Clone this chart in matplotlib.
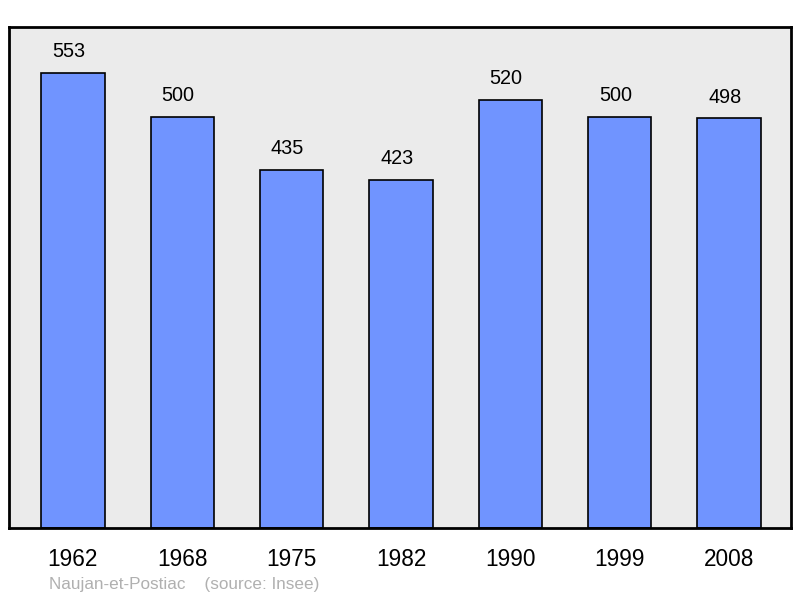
import matplotlib
matplotlib.use("Agg")
import matplotlib.pyplot as plt

years = ["1962", "1968", "1975", "1982", "1990", "1999", "2008"]
population = [553, 500, 435, 423, 520, 500, 498]
caption = "Naujan-et-Postiac    (source: Insee)"

plt.rcParams["font.family"] = ["Liberation Sans", "DejaVu Sans"]

fig = plt.figure(figsize=(8, 5.98), dpi=100)
# frame spans roughly x 9..791, y 27..528 in pixels
ax = fig.add_axes([9 / 800, 70 / 598, 782 / 800, 501 / 598])
ax.set_facecolor("#ebebeb")

xs = list(range(len(years)))
ax.bar(xs, population, width=0.58, color="#7094ff", edgecolor="black",
       linewidth=1.2, zorder=2)

# value labels sit a little left of the bar centre in the original
for x, v in zip(xs, population):
    ax.annotate(str(v), (x, v), xytext=(-3, 8.5), textcoords="offset points",
                ha="center", va="bottom", fontsize=14.3)

ax.set_xlim(-0.584, 6.566)
ax.set_ylim(0, 609)
ax.set_xticks(xs)
ax.set_xticklabels(years, fontsize=16.3)
ax.tick_params(axis="x", length=0, pad=14.5)
ax.set_yticks([])
for s in ax.spines.values():
    s.set_linewidth(2)

fig.text(49 / 800, 1 - 585 / 598, caption, fontsize=12.3, color="#b0b0b0",
         ha="left", va="center")

fig.savefig("out.png", dpi=100)
